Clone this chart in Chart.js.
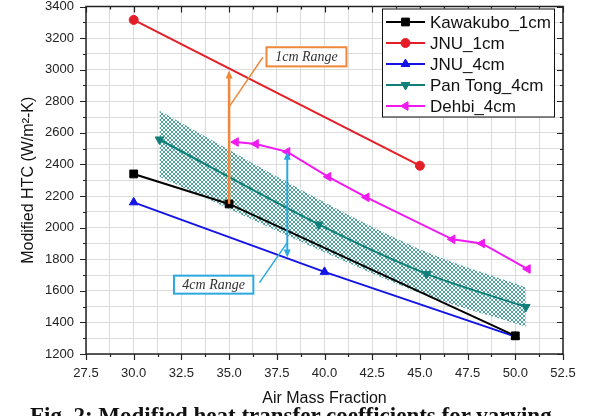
<!DOCTYPE html>
<html>
<head>
<meta charset="utf-8">
<script src="https://cdn.jsdelivr.net/npm/chart.js@4.4.0/dist/chart.umd.min.js"></script>
<style>
    html, body { margin: 0; padding: 0; background: #fff; overflow: hidden; }
    #wrap { position: relative; width: 590px; height: 416px; overflow: hidden; }
    #caption {
        position: absolute; left: 30px; top: 404px;
        font: bold 23px "Liberation Serif", "Times New Roman", serif;
        line-height: 23px; white-space: nowrap; color: #111;
    }
</style>
</head>
<body>
<div id="wrap">
    <canvas id="htcChart" width="590" height="416"></canvas>
    <div id="caption">Fig. 2: Modified heat transfer coefficients for varying</div>
</div>
<script>
// Values
const kawakuboX = [30, 35, 50];
const kawakuboY = [2340, 2150, 1315];
const jnu1X = [30, 45];
const jnu1Y = [3315, 2392];
const jnu4X = [30, 40, 50];
const jnu4Y = [2160, 1720, 1310];
const panTongX = [31.35, 39.7, 45.35, 50.55];
const panTongY = [2558, 2020, 1707, 1498];
const panTongUpper = [2740, 2180, 1845, 1623];
const panTongLower = [2322, 1860, 1570, 1373];
const dehbiX = [35.35, 36.4, 38.05, 40.2, 42.2, 46.7, 48.25, 50.65];
const dehbiY = [2542, 2530, 2480, 2322, 2192, 1926, 1900, 1738];

const xMin = 27.5, xMax = 52.5, xStep = 1.25;
const yMin = 1200, yMax = 3400, yStep = 100;

// range arrows with their label boxes (data coordinates)
const rangeNotes = [
    { text: '1cm Range', color: '#f0883c', x: 35, from: 2150, to: 2995, heads: ['top'], width: 2.5,
      box: [36.96, 41.15, 3021, 3142], lead: [36.77, 3079, 35, 2765] },
    { text: '4cm Range', color: '#2aa9e0', x: 38.05, from: 1811, to: 2480, heads: ['top', 'bottom'], width: 2,
      box: [32.11, 36.27, 1582, 1696], lead: [36.59, 1652, 38.05, 1905] }
];

const pts = (xs, ys) => xs.map((x, i) => ({ x: x, y: ys[i] }));

function hatchPattern(color) {
    const c = document.createElement('canvas');
    c.width = 4; c.height = 4;
    const g = c.getContext('2d');
    g.fillStyle = '#ffffff';
    g.fillRect(0, 0, 4, 4);
    g.fillStyle = color;
    [[0, 0], [1, 1], [2, 2], [3, 3], [3, 0], [2, 1], [1, 2], [0, 3]].forEach(p => g.fillRect(p[0], p[1], 1, 1));
    return g.createPattern(c, 'repeat');
}

function series(label, xs, ys, color, style, rotation, radius) {
    return {
        label: label,
        data: pts(xs, ys),
        borderColor: color,
        backgroundColor: color,
        pointBackgroundColor: color,
        pointBorderColor: color,
        borderWidth: 2,
        pointStyle: style,
        pointRotation: rotation,
        pointRadius: radius,
        pointBorderWidth: 1,
        fill: false
    };
}

const datasets = [
    series('Kawakubo_1cm', kawakuboX, kawakuboY, '#000000', 'rect', 0, 5.5),
    series('JNU_1cm', jnu1X, jnu1Y, '#e41e26', 'circle', 0, 4.5),
    series('JNU_4cm', jnu4X, jnu4Y, '#1414e6', 'triangle', 0, 5),
    Object.assign(series('Pan Tong_4cm', panTongX, panTongY, '#0f7f7a', 'triangle', 180, 5), { tension: 0.3 }),
    series('Dehbi_4cm', dehbiX, dehbiY, '#f01af0', 'triangle', 270, 5),
    {
        label: 'band upper',
        data: pts(panTongX, panTongUpper),
        borderColor: 'rgba(0,0,0,0)',
        backgroundColor: hatchPattern('#4fa39d'),
        pointRadius: 0,
        tension: 0.3,
        fill: '+1'
    },
    {
        label: 'band lower',
        data: pts(panTongX, panTongLower),
        borderColor: 'rgba(0,0,0,0)',
        pointRadius: 0,
        tension: 0.3,
        fill: false
    }
];

function drawArrowHead(ctx, x, y, dir, len, half) {
    // dir = -1 points up, 1 points down
    ctx.beginPath();
    ctx.moveTo(x, y);
    ctx.lineTo(x - half, y - dir * len);
    ctx.lineTo(x + half, y - dir * len);
    ctx.closePath();
    ctx.fill();
}

const overlayPlugin = {
    id: 'overlay',
    afterDatasetsDraw(chart) {
        const ctx = chart.ctx;
        const xs = chart.scales.x, ys = chart.scales.y;
        const area = chart.chartArea;

        // frame and tick marks
        ctx.save();
        ctx.strokeStyle = '#222';
        ctx.lineWidth = 1.5;
        ctx.strokeRect(area.left, area.top, area.right - area.left, area.bottom - area.top);
        ctx.lineWidth = 1.2;
        ctx.beginPath();
        xs.ticks.forEach(t => {
            const px = Math.round(xs.getPixelForValue(t.value)) + 0.5;
            const major = Math.abs(t.value / 2.5 - Math.round(t.value / 2.5)) < 1e-6;
            const len = major ? 6 : 3;
            ctx.moveTo(px, area.bottom); ctx.lineTo(px, area.bottom + len);
            ctx.moveTo(px, area.top); ctx.lineTo(px, area.top + len);
        });
        ys.ticks.forEach(t => {
            const py = Math.round(ys.getPixelForValue(t.value)) + 0.5;
            const major = t.value % 200 === 0;
            const len = major ? 6 : 3;
            ctx.moveTo(area.left, py); ctx.lineTo(area.left - len, py);
            ctx.moveTo(area.right, py); ctx.lineTo(area.right - len, py);
        });
        ctx.stroke();
        ctx.restore();

        // range arrows and their notes
        rangeNotes.forEach(n => {
            const px = xs.getPixelForValue(n.x);
            const yTop = ys.getPixelForValue(n.to);
            const yBot = ys.getPixelForValue(n.from);
            const headLen = 8, headHalf = 3.5;
            ctx.save();
            ctx.strokeStyle = n.color;
            ctx.fillStyle = n.color;
            ctx.lineWidth = n.width;
            ctx.beginPath();
            ctx.moveTo(px, n.heads.includes('top') ? yTop + headLen - 1 : yTop);
            ctx.lineTo(px, n.heads.includes('bottom') ? yBot - headLen + 1 : yBot);
            ctx.stroke();
            if (n.heads.includes('top')) drawArrowHead(ctx, px, yTop, -1, headLen, headHalf);
            if (n.heads.includes('bottom')) drawArrowHead(ctx, px, yBot, 1, headLen, headHalf);

            // leader line
            ctx.lineWidth = 1.5;
            ctx.beginPath();
            ctx.moveTo(xs.getPixelForValue(n.lead[0]), ys.getPixelForValue(n.lead[1]));
            ctx.lineTo(xs.getPixelForValue(n.lead[2]), ys.getPixelForValue(n.lead[3]));
            ctx.stroke();

            // label box
            const bx0 = xs.getPixelForValue(n.box[0]), bx1 = xs.getPixelForValue(n.box[1]);
            const by0 = ys.getPixelForValue(n.box[3]), by1 = ys.getPixelForValue(n.box[2]);
            ctx.fillStyle = '#fff';
            ctx.fillRect(bx0, by0, bx1 - bx0, by1 - by0);
            ctx.lineWidth = 2;
            ctx.strokeRect(bx0, by0, bx1 - bx0, by1 - by0);
            ctx.fillStyle = '#333';
            ctx.font = 'italic 14px "Liberation Serif", "Times New Roman", serif';
            ctx.textAlign = 'center';
            ctx.textBaseline = 'middle';
            ctx.fillText(n.text, (bx0 + bx1) / 2, (by0 + by1) / 2 + 1);
            ctx.restore();
        });

        // legend box inside the plot
        const items = chart.data.datasets.slice(0, 5);
        const boxW = 172, boxH = 108;
        const left = area.right - 9 - boxW, top = area.top + 2;
        ctx.save();
        ctx.fillStyle = '#fff';
        ctx.fillRect(left, top, boxW, boxH);
        ctx.strokeStyle = '#111';
        ctx.lineWidth = 1;
        ctx.strokeRect(left + 0.5, top + 0.5, boxW, boxH);
        ctx.font = '17px "Liberation Sans", Arial, sans-serif';
        ctx.textBaseline = 'middle';
        ctx.textAlign = 'left';
        items.forEach((ds, i) => {
            const y = top + 13.5 + i * 21;
            ctx.strokeStyle = ds.borderColor;
            ctx.fillStyle = ds.borderColor;
            ctx.lineWidth = 2;
            ctx.beginPath();
            ctx.moveTo(left + 4, y);
            ctx.lineTo(left + 43, y);
            ctx.stroke();
            ctx.lineWidth = 1;
            Chart.helpers.drawPoint(ctx, {
                pointStyle: ds.pointStyle,
                rotation: ds.pointRotation,
                radius: ds.pointRadius,
                borderWidth: 1
            }, left + 23.5, y);
            ctx.fillStyle = '#111';
            ctx.fillText(ds.label, left + 48, y + 1);
        });
        ctx.restore();
    }
};

const tickFont = { family: '"Liberation Sans", Arial, sans-serif', size: 13 };
const titleFont = { family: '"Liberation Sans", Arial, sans-serif', size: 16 };

new Chart(document.getElementById('htcChart').getContext('2d'), {
    type: 'line',
    data: { datasets: datasets },
    options: {
        responsive: false,
        animation: false,
        events: [],
        layout: { padding: { left: 0, right: 27, top: 3, bottom: 0 } },
        plugins: {
            legend: { display: false },
            tooltip: { enabled: false },
            filler: { propagate: false }
        },
        scales: {
            x: {
                type: 'linear',
                min: xMin,
                max: xMax,
                afterBuildTicks: scale => {
                    const ticks = [];
                    for (let v = xMin; v <= xMax + 1e-9; v += xStep) ticks.push({ value: v });
                    scale.ticks = ticks;
                },
                afterFit: scale => {
                    scale.height = 62;
                    scale.paddingLeft = 0;
                    scale.paddingRight = 0;
                },
                ticks: {
                    font: tickFont,
                    color: '#222',
                    padding: 12,
                    maxRotation: 0,
                    autoSkip: false,
                    callback: v => (Math.abs(v / 2.5 - Math.round(v / 2.5)) < 1e-6 ? v.toFixed(1) : '')
                },
                grid: { color: '#dcdcdc', lineWidth: 1, drawTicks: false },
                border: { display: false },
                title: { display: true, text: 'Air Mass Fraction', font: titleFont, color: '#111', padding: { top: 0, bottom: 8 } }
            },
            y: {
                min: yMin,
                max: yMax,
                afterBuildTicks: scale => {
                    const ticks = [];
                    for (let v = yMin; v <= yMax; v += yStep) ticks.push({ value: v });
                    scale.ticks = ticks;
                },
                afterFit: scale => {
                    scale.width = 86;
                    scale.paddingTop = 0;
                    scale.paddingBottom = 0;
                },
                ticks: {
                    font: tickFont,
                    color: '#222',
                    padding: 12,
                    autoSkip: false,
                    callback: v => (v % 200 === 0 ? String(v) : '')
                },
                grid: { color: '#dcdcdc', lineWidth: 1, drawTicks: false },
                border: { display: false },
                title: { display: true, text: 'Modified HTC (W/m²-K)', font: titleFont, color: '#111', padding: { top: 19, bottom: 0 } }
            }
        }
    },
    plugins: [overlayPlugin]
});
</script>
</body>
</html>
